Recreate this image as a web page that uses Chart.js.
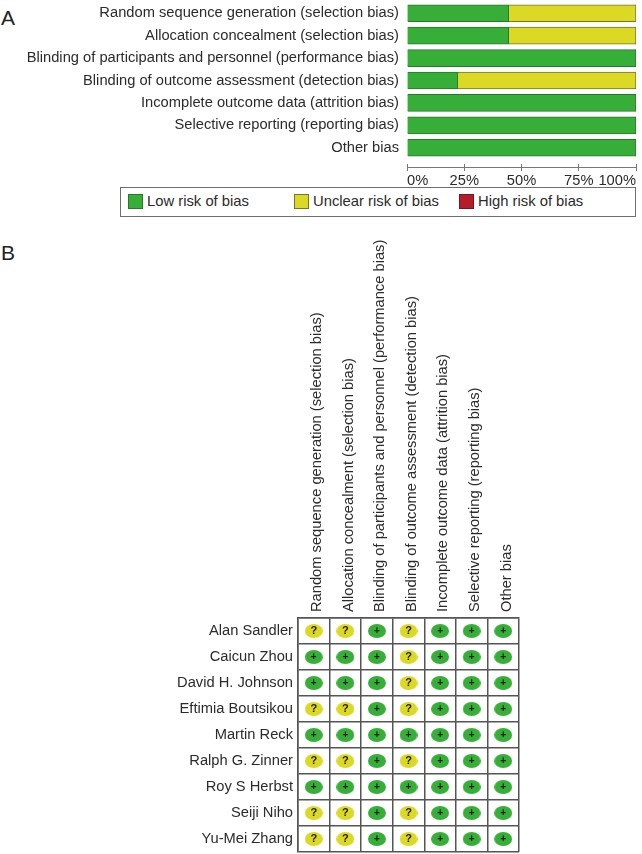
<!DOCTYPE html>
<html>
<head>
<meta charset="utf-8">
<title>Risk of bias</title>
<script src="https://cdn.jsdelivr.net/npm/chart.js@4/dist/chart.umd.min.js"></script>
<style>
  html, body { margin: 0; padding: 0; background: #fff; }
  body { position: relative; width: 642px; height: 854px; overflow: hidden; font-family: "Liberation Sans", sans-serif; color: #2b2b2b; }
  canvas { position: absolute; left: 0; }
  .panel { position: absolute; left: 1px; font-size: 21px; line-height: 24px; color: #222; }
  #legendBox { position: absolute; left: 120px; top: 187px; width: 514px; height: 28px; border: 1px solid #6f6f6f; }
  .item { position: absolute; top: 194px; font-size: 14.8px; line-height: 15px; white-space: nowrap; }
  .item i { position: absolute; left: 0; top: 0; width: 13px; height: 13px; border: 1px solid #444; }
  .item span { margin-left: 19px; }
</style>
</head>
<body>
<div class="panel" style="top:6px">A</div>
<div class="panel" style="top:241px">B</div>
<canvas id="summary" width="642" height="187" style="top:0"></canvas>
<div id="legendBox"></div>
<div class="item" style="left:128px"><i style="background:#36ae37;border-color:#28772c"></i><span>Low risk of bias</span></div>
<div class="item" style="left:294px"><i style="background:#dcd924;border-color:#77752a"></i><span>Unclear risk of bias</span></div>
<div class="item" style="left:459px"><i style="background:#b71c2a;border-color:#701820"></i><span>High risk of bias</span></div>
<canvas id="matrix" width="642" height="632" style="top:225px"></canvas>
<script>
"use strict";
// ---- data ----
var domains = [
  "Random sequence generation (selection bias)",
  "Allocation concealment (selection bias)",
  "Blinding of participants and personnel (performance bias)",
  "Blinding of outcome assessment (detection bias)",
  "Incomplete outcome data (attrition bias)",
  "Selective reporting (reporting bias)",
  "Other bias"
];
var lowRisk = [44.4, 44.4, 100, 22.2, 100, 100, 100];
var unclearRisk = [55.6, 55.6, 0, 77.8, 0, 0, 0];
var highRisk = [0, 0, 0, 0, 0, 0, 0];
var percentTicks = [0, 25, 50, 75, 100];

var studies = ["Alan Sandler", "Caicun Zhou", "David H. Johnson", "Eftimia Boutsikou", "Martin Reck", "Ralph G. Zinner", "Roy S Herbst", "Seiji Niho", "Yu-Mei Zhang"];
// one string per study, one character per domain
var judgements = ["??+?+++", "+++?+++", "+++?+++", "??+?+++", "+++++++", "??+?+++", "+++++++", "??+?+++", "??+?+++"];

var GREEN = "#36ae37", YELLOW = "#dcd924", RED = "#b71c2a";
var FONT = "Liberation Sans";
var TEXT = "#2b2b2b";
var FONT_SIZE = 14.7;

// y axis: no extra room above/below for the first and last label
function fixRowAxis(width) {
  return function (s) {
    s.width = width;
    s.paddingTop = 0;
    s.paddingBottom = 0;
  };
}

// ---- panel A ----
// moves the percent axis below the bars, its line crosses the middle of the ticks
var axisGap = {
  id: "axisGap",
  afterLayout: function (chart) { chart.scales.x.top = 164; },
  afterDraw: function (chart) {
    var s = chart.scales.x, c = chart.ctx;
    c.save();
    c.strokeStyle = "#777";
    c.lineWidth = 1;
    c.beginPath();
    c.moveTo(s.left, 167.5);
    c.lineTo(s.right, 167.5);
    c.stroke();
    c.restore();
  }
};

new Chart(document.getElementById("summary"), {
  type: "bar",
  data: {
    labels: domains,
    datasets: [
      { label: "Low risk of bias", data: lowRisk, backgroundColor: GREEN, borderColor: "#28772c", borderWidth: 1, barThickness: 17 },
      { label: "Unclear risk of bias", data: unclearRisk, backgroundColor: YELLOW, borderColor: "#77752a", borderWidth: 1, barThickness: 17 },
      { label: "High risk of bias", data: highRisk, backgroundColor: RED, borderWidth: 0, barThickness: 17 }
    ]
  },
  options: {
    indexAxis: "y",
    responsive: false,
    animation: false,
    layout: { padding: { top: 2, right: 6, bottom: 0, left: 0 } },
    plugins: { legend: { display: false }, tooltip: { enabled: false } },
    scales: {
      x: {
        stacked: true, min: 0, max: 100,
        afterFit: function (s) { s.height = 28; },
        afterBuildTicks: function (s) { s.ticks = percentTicks.map(function (v) { return { value: v }; }); },
        grid: { drawOnChartArea: false, tickLength: 7, color: "#777" },
        border: { display: false },
        ticks: {
          align: "inner", padding: 1, maxRotation: 0, autoSkip: false, color: TEXT,
          font: { family: FONT, size: FONT_SIZE },
          callback: function (v) { return v + "%"; }
        }
      },
      y: {
        stacked: true,
        afterFit: fixRowAxis(407),
        grid: { display: false },
        border: { display: false },
        ticks: { padding: 0, autoSkip: false, color: TEXT, font: { family: FONT, size: FONT_SIZE } }
      }
    }
  },
  plugins: [axisGap]
});

// ---- panel B ----
function ellipseMark(color) {
  var cv = document.createElement("canvas");
  cv.width = 18;
  cv.height = 14;
  var c = cv.getContext("2d");
  c.fillStyle = color;
  c.beginPath();
  c.ellipse(9, 7, 9, 7, 0, 0, Math.PI * 2);
  c.fill();
  return cv;
}

function cellsFor(symbol) {
  var out = [];
  studies.forEach(function (study, r) {
    domains.forEach(function (domain, k) {
      if (judgements[r].charAt(k) === symbol) out.push({ x: domain, y: study });
    });
  });
  return out;
}

// "+" and "?" inside the marks
var markSymbols = {
  id: "markSymbols",
  afterDatasetsDraw: function (chart) {
    var c = chart.ctx;
    c.save();
    c.textAlign = "center";
    c.textBaseline = "middle";
    chart.data.datasets.forEach(function (ds, i) {
      c.fillStyle = "#1c1c1c";
      c.font = "bold " + ds.symbolSize + "px '" + FONT + "'";
      chart.getDatasetMeta(i).data.forEach(function (pt) {
        c.fillText(ds.symbol, pt.x, pt.y);
      });
    });
    c.restore();
  }
};

new Chart(document.getElementById("matrix"), {
  type: "scatter",
  data: {
    datasets: [
      { label: "Low", symbol: "+", symbolSize: 10, data: cellsFor("+"), pointStyle: ellipseMark(GREEN) },
      { label: "Unclear", symbol: "?", symbolSize: 11, data: cellsFor("?"), pointStyle: ellipseMark(YELLOW) }
    ]
  },
  options: {
    responsive: false,
    animation: false,
    layout: { padding: { top: 0, right: 123, bottom: 0, left: 0 } },
    plugins: { legend: { display: false }, tooltip: { enabled: false } },
    scales: {
      x: {
        type: "category", position: "top", labels: domains, offset: true,
        afterFit: function (s) { s.height = 393; },
        grid: { offset: true, drawTicks: false, color: "#555", lineWidth: 1.5 },
        border: { color: "#555", width: 1.5 },
        ticks: { minRotation: 90, maxRotation: 90, labelOffset: 21, padding: 6, autoSkip: false, color: TEXT, font: { family: FONT, size: FONT_SIZE } }
      },
      y: {
        type: "category", labels: studies, offset: true,
        afterFit: fixRowAxis(298),
        grid: { offset: true, drawTicks: false, color: "#555", lineWidth: 1.5 },
        border: { color: "#555", width: 1.5 },
        ticks: { padding: 5, autoSkip: false, color: TEXT, font: { family: FONT, size: FONT_SIZE } }
      }
    }
  },
  plugins: [markSymbols]
});
</script>
</body>
</html>
